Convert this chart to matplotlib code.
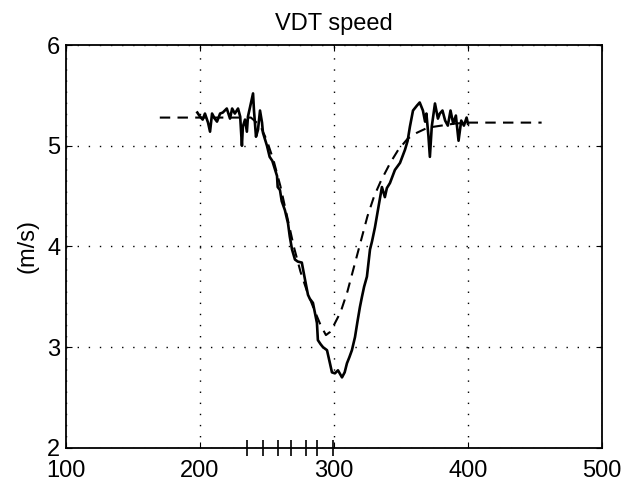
import matplotlib
matplotlib.use('Agg')
import matplotlib.pyplot as plt

# measured speed (solid)
meas_x = [198, 200, 202, 203.7, 206, 207.5, 209, 211, 212.7, 215, 217, 220, 222.4, 224, 226,
	228.4, 230, 231.3, 232, 233.6, 235, 235.8, 237.3, 239.6, 240.3, 241.8, 243.3, 244.8, 246.3,
	247, 250, 252, 254, 257.5, 258, 259.7, 261, 263.4, 265.7, 267, 268.7, 270.9, 273, 276, 278.4,
	280.6, 282, 284.3, 287.3, 288, 290, 291.8, 294.8, 297, 298.5, 300.7, 303, 306, 308, 309.7,
	311.5, 313.4, 315.7, 317.5, 319.4, 320.9, 322.5, 324.6, 326.9, 328.4, 330.6, 332.8, 335.8,
	338, 339.5, 341.8, 345.5, 349.3, 353, 355, 356.7, 359, 362, 364, 366.4, 368, 369, 370.5,
	371.6, 373, 375.4, 377.6, 379, 381, 383, 385, 387, 389, 391, 393, 395, 397, 399, 400]
meas_y = [5.33, 5.29, 5.26, 5.32, 5.23, 5.14, 5.32, 5.27, 5.24, 5.32, 5.33, 5.37, 5.27, 5.37, 5.32,
	5.37, 5.29, 5.00, 5.19, 5.26, 5.14, 5.29, 5.38, 5.52, 5.35, 5.09, 5.16, 5.35, 5.23,
	5.13, 5.00, 4.89, 4.85, 4.70, 4.59, 4.56, 4.45, 4.36, 4.23, 4.10, 3.97, 3.87, 3.85, 3.84, 3.67,
	3.52, 3.48, 3.44, 3.24, 3.07, 3.03, 3.00, 2.97, 2.84, 2.75, 2.74, 2.77, 2.70, 2.75, 2.84,
	2.90, 2.97, 3.10, 3.25, 3.40, 3.50, 3.60, 3.70, 3.97, 4.05, 4.19, 4.36, 4.59,
	4.49, 4.58, 4.63, 4.76, 4.83, 4.96, 5.05, 5.19, 5.35, 5.40, 5.43, 5.35, 5.24, 5.32, 5.10,
	4.89, 5.19, 5.42, 5.27, 5.32, 5.35, 5.25, 5.20, 5.35, 5.22, 5.30, 5.05, 5.25, 5.20, 5.28, 5.22]

# model speed (dashed)
model_x = [170, 238, 245, 250, 255, 260, 265, 270, 275, 280, 285, 290, 294, 297, 300, 305, 310,
	315, 320, 325, 330, 335, 342, 348, 355, 362, 370, 380, 390, 400, 455]
model_y = [5.28, 5.28, 5.20, 5.05, 4.85, 4.60, 4.30, 4.00, 3.75, 3.55, 3.38, 3.22, 3.12, 3.15,
	3.22, 3.35, 3.55, 3.80, 4.05, 4.30, 4.50, 4.65, 4.83, 4.96, 5.07, 5.13, 5.18, 5.20, 5.22,
	5.23, 5.23]

# sample marks on the time axis
mark_x = [235, 247, 258, 268, 279, 287, 299]

plt.rcParams['font.family'] = ['Liberation Sans', 'DejaVu Sans']

fig = plt.figure(figsize=(6.41, 4.90), dpi=100)
ax = fig.add_axes([0.103, 0.086, 0.836, 0.822])

ax.plot(model_x, model_y, color='black', lw=1.5, dashes=(5, 3.5))
ax.plot(meas_x, meas_y, color='black', lw=1.9)
ax.plot(mark_x, [2] * len(mark_x), ls='none', marker='|', color='black', ms=11, mew=1.2, clip_on=False)

ax.set_xlim(100, 500)
ax.set_ylim(2, 6)
ax.set_xticks([100, 200, 300, 400, 500])
ax.set_yticks([2, 3, 4, 5, 6])
ax.grid(True, color='black', ls=(0, (1, 7)), lw=1.0)
ax.tick_params(direction='in', length=4, top=True, right=True, labelsize=17)
ax.tick_params(axis='x', pad=9)
ax.tick_params(axis='y', pad=4)
for s in ax.spines.values():
	s.set_linewidth(1.3)

ax.set_title('VDT speed', fontsize=17, pad=11)
ax.set_ylabel('(m/s)', fontsize=17, labelpad=6)

plt.savefig('out.png', dpi=100)
